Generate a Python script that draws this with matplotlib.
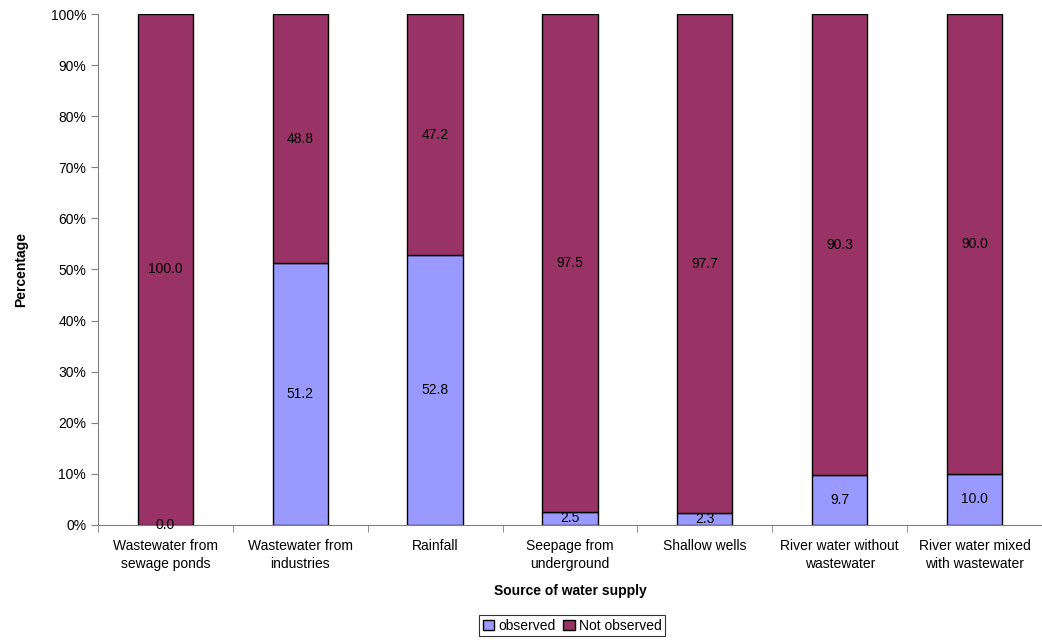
import numpy as np
import matplotlib.pyplot as plt
from matplotlib.ticker import PercentFormatter

plt.rcParams['font.family'] = ['Liberation Sans', 'DejaVu Sans']
plt.rcParams['font.size'] = 10

# Source of water supply vs. observed share
sources = ['Wastewater from\nsewage ponds', 'Wastewater from\nindustries', 'Rainfall',
           'Seepage from\nunderground', 'Shallow wells', 'River water without\nwastewater',
           'River water mixed\nwith wastewater']
observed = [0.0, 51.2, 52.8, 2.5, 2.3, 9.7, 10.0]
not_observed = [100.0, 48.8, 47.2, 97.5, 97.7, 90.3, 90.0]

fig = plt.figure(figsize=(10.42, 6.4), dpi=100)
ax = fig.add_axes([0.094, 0.180, 0.906, 0.798])

x = np.arange(len(sources))
w = 0.41
b1 = ax.bar(x, observed, w, color='#9999FF', edgecolor='black', linewidth=1, label='observed')
b2 = ax.bar(x, not_observed, w, bottom=observed, color='#993366', edgecolor='black',
            linewidth=1, label='Not observed')

# value labels in the middle of each segment
for i in range(len(sources)):
    ax.text(x[i], observed[i] / 2, f'{observed[i]:.1f}', ha='center', va='center', fontsize=10)
    ax.text(x[i], observed[i] + not_observed[i] / 2, f'{not_observed[i]:.1f}',
            ha='center', va='center', fontsize=10)

ax.set_xlim(-0.5, len(sources) - 0.5)
ax.set_ylim(0, 100)
ax.set_yticks(np.arange(0, 101, 10))
ax.yaxis.set_major_formatter(PercentFormatter(decimals=0))
ax.set_xticks(x)
ax.set_xticklabels(sources, linespacing=1.35)
ax.set_xticks(np.arange(-0.5, len(sources), 1), minor=True)
ax.tick_params(axis='x', which='major', length=0, pad=10)
ax.tick_params(axis='x', which='minor', length=5, color='#808080')
ax.tick_params(axis='y', length=5, color='#808080')

for s in ['top', 'right']:
    ax.spines[s].set_visible(False)
for s in ['left', 'bottom']:
    ax.spines[s].set_color('#808080')

ax.set_ylabel('Percentage', fontweight='bold', labelpad=16)
ax.set_xlabel('Source of water supply', fontweight='bold', labelpad=10)

leg = fig.legend(handles=[b1, b2], loc='center', bbox_to_anchor=(0.549, 0.022), ncol=2,
                 frameon=True, fancybox=False, edgecolor='black', handlelength=0.8,
                 handleheight=0.8, handletextpad=0.3, columnspacing=0.6, borderpad=0.25)
leg.get_frame().set_linewidth(0.8)

fig.savefig('out.png', dpi=100)
